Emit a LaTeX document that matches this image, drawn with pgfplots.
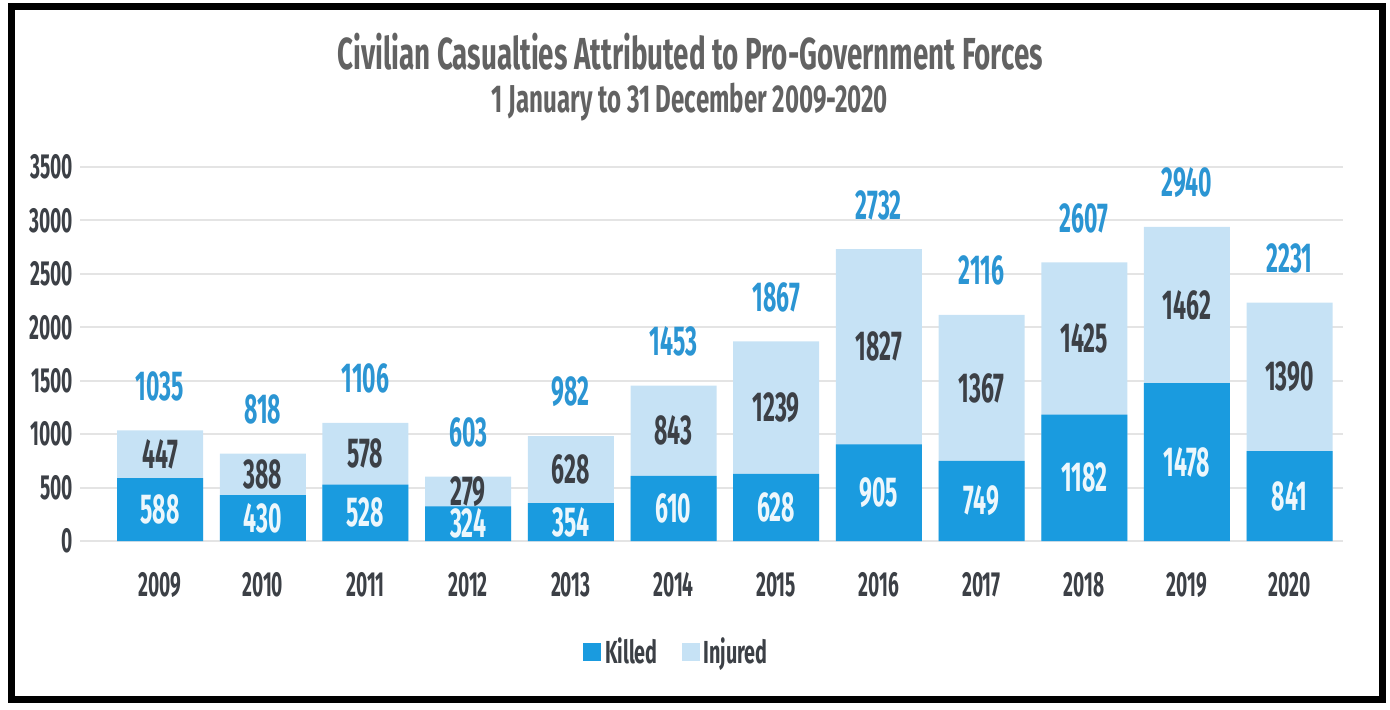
\documentclass[border=0pt]{standalone}
\usepackage{pgfplots}
\pgfplotsset{compat=1.18}
\usepackage{pgfplotstable}
\usepackage{fontspec}
\setmainfont[FakeStretch=0.62]{Fira Sans}
\newfontfamily\narrowfont[FakeStretch=0.55]{Fira Sans}
\definecolor{killed}{HTML}{1A9BDF}
\definecolor{injured}{HTML}{C6E2F5}
\definecolor{totc}{HTML}{2B95D3}
\definecolor{txt}{HTML}{3C4046}
\definecolor{ttl}{HTML}{626262}
\definecolor{gridc}{HTML}{E4E4E4}
\pgfplotstableread{
x year k i t
0 2009 588 447 1035
1 2010 430 388 818
2 2011 528 578 1106
3 2012 324 279 603
4 2013 354 628 982
5 2014 610 843 1453
6 2015 628 1239 1867
7 2016 905 1827 2732
8 2017 749 1367 2116
9 2018 1182 1425 2607
10 2019 1478 1462 2940
11 2020 841 1390 2231
}\data
\begin{document}
\begin{tikzpicture}
\path (0bp,0bp) rectangle (695bp,355bp);
\draw[line width=3.5bp] (5.5bp,5bp) rectangle (691bp,351.5bp);
\node[text=ttl, font=\bfseries\fontsize{22.5}{25}\selectfont] at (345bp,329bp) {Civilian Casualties Attributed to Pro-Government Forces};
\node[text=ttl, font=\bfseries\fontsize{19.5}{22}\selectfont] at (345bp,304bp) {1 January to 31 December 2009-2020};
\begin{axis}[
  at={(40bp,84.5bp)}, anchor=south west,
  scale only axis, width=631.5bp, height=187bp,
  xmin=-0.78, xmax=11.52, ymin=0, ymax=3500,
  ytick={0,500,...,3500},
  xtick={0,...,11},
  xticklabels={2009,2010,2011,2012,2013,2014,2015,2016,2017,2018,2019,2020},
  /pgf/number format/1000 sep={},
  /pgf/number format/assume math mode=true,
  ymajorgrids, grid style={gridc, line width=1bp},
  axis line style={draw=none}, tick style={draw=none},
  yticklabel style={font=\bfseries\narrowfont\fontsize{17.5}{19}\selectfont, text=txt},
  xticklabel style={font=\bfseries\narrowfont\fontsize{17.5}{19}\selectfont, text=txt, yshift=-12bp},
  clip=false,
  legend style={at={(0.473,-0.297)}, anchor=center, draw=none, fill=none,
    legend columns=2, font=\bfseries\fontsize{16}{18}\selectfont, text=txt,
    /tikz/every even column/.append style={column sep=10bp}},
  reverse legend,
]
\addplot[ybar, bar width=43bp, bar shift=0pt, fill=injured, draw=none,
  legend image code/.code={\fill[injured] (0bp,-4.5bp) rectangle (9bp,4.5bp);}]
  table[x=x,y=t]{\data};
\addlegendentry{Injured}
\addplot[ybar, bar width=43bp, bar shift=0pt, fill=killed, draw=none,
  legend image code/.code={\fill[killed] (0bp,-4.5bp) rectangle (9bp,4.5bp);}]
  table[x=x,y=k]{\data};
\addlegendentry{Killed}
\addplot[draw=none, mark=none, forget plot, nodes near coords, point meta=explicit symbolic,
  nodes near coords align=center,
  every node near coord/.append style={font=\bfseries\narrowfont\fontsize{21}{23}\selectfont, text=white!92!killed}]
  table[x=x, y expr=\thisrow{k}/2, meta=k]{\data};
\addplot[draw=none, mark=none, forget plot, nodes near coords, point meta=explicit symbolic,
  nodes near coords align=center,
  every node near coord/.append style={font=\bfseries\narrowfont\fontsize{21}{23}\selectfont, text=txt}]
  table[x=x, y expr=\thisrow{k}+\thisrow{i}/2, meta=i]{\data};
\addplot[draw=none, mark=none, forget plot, nodes near coords, point meta=explicit symbolic,
  nodes near coords align=center,
  every node near coord/.append style={font=\bfseries\narrowfont\fontsize{21}{23}\selectfont, text=totc, yshift=22bp}]
  table[x=x, y=t, meta=t]{\data};
\end{axis}
\end{tikzpicture}
\end{document}
